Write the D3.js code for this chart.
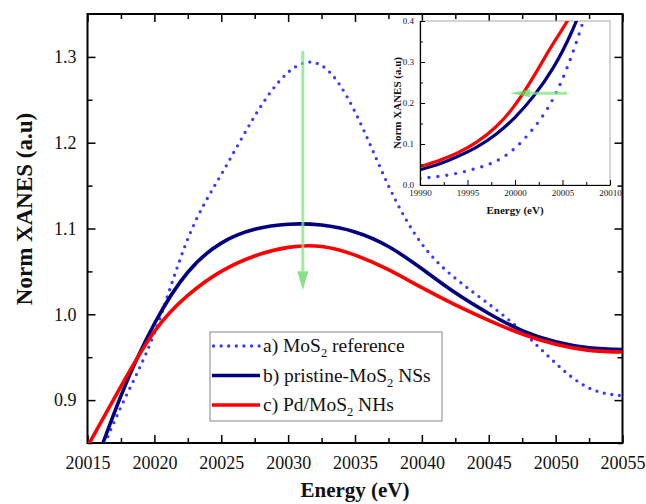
<!DOCTYPE html>
<html>
<head>
<meta charset="utf-8">
<script src="https://cdn.jsdelivr.net/npm/d3@7"></script>
<style>
  body { margin: 0; background: #fff; }
  svg text { font-family: "Liberation Serif", "Times New Roman", "DejaVu Serif", serif; fill: #111; }
</style>
</head>
<body>
<div id="chart"></div>
<script>

// main plot data (energy in eV, normalised XANES)
const energy = [20015, 20017.5, 20020, 20022.5, 20025, 20027.5, 20030, 20032.5, 20035,
	20037.5, 20040, 20042.5, 20045, 20047.5, 20050, 20052.5, 20055];
const refMoS2 = [0.800, 0.892, 0.978, 1.088, 1.163, 1.231, 1.282, 1.290, 1.236,
	1.150, 1.082, 1.042, 1.012, 0.980, 0.943, 0.914, 0.905];
const pristine = [0.800, 0.905, 0.989, 1.049, 1.083, 1.099, 1.105, 1.104, 1.096,
	1.079, 1.053, 1.025, 1.001, 0.981, 0.968, 0.961, 0.959];
const pdMoS2 = [0.846, 0.916, 0.980, 1.022, 1.050, 1.068, 1.078, 1.079, 1.069,
	1.052, 1.031, 1.011, 0.993, 0.977, 0.965, 0.958, 0.956];

// inset data (absorption edge)
const insetEnergy = [19990, 19992, 19994, 19996, 19998, 20000, 20002, 20004, 20006, 20008];
const insetRef = [0.016, 0.021, 0.029, 0.041, 0.058, 0.090, 0.140, 0.210, 0.318, 0.460];
const insetPristine = [0.037, 0.051, 0.070, 0.093, 0.124, 0.165, 0.218, 0.285, 0.375, 0.490];
const insetPd = [0.045, 0.060, 0.079, 0.105, 0.142, 0.195, 0.266, 0.344, 0.420, 0.520];

const xTicks = [20015, 20020, 20025, 20030, 20035, 20040, 20045, 20050, 20055];
const yTicks = [0.9, 1.0, 1.1, 1.2, 1.3];
const insetXTicks = [19990, 19995, 20000, 20005, 20010];
const insetYTicks = [0, 0.1, 0.2, 0.3, 0.4];

const seriesNames = ['a) MoS|2| reference', 'b) pristine-MoS|2| NSs', 'c) Pd/MoS|2| NHs'];

// arrows: [x, y] start and end in data units
const mainArrow = [[20031.1, 1.307], [20031.1, 1.028]];
const insetArrow = [[20005.5, 0.224], [19999.5, 0.224]];

const W = 646, H = 504;
const m = {left: 87.5, right: 23.5, top: 14, bottom: 61};
const pw = W - m.left - m.right, ph = H - m.top - m.bottom;
const serif = '"Liberation Serif", "Times New Roman", "DejaVu Serif", serif';

const styles = [
	{color: '#3a3aff', width: 3.3, dash: '0,7.6', cap: 'round'},
	{color: '#000080', width: 3.6, dash: null, cap: 'butt'},
	{color: '#ff0000', width: 3.6, dash: null, cap: 'butt'}
];

const svg = d3.select('#chart').append('svg')
	.attr('width', W)
	.attr('height', H);

const x = d3.scaleLinear().domain([20015, 20055]).range([m.left, m.left + pw]);
const y = d3.scaleLinear().domain([0.85, 1.35]).range([m.top + ph, m.top]);

svg.append('clipPath').attr('id', 'clipMain')
	.append('rect')
	.attr('x', m.left).attr('y', m.top).attr('width', pw).attr('height', ph);

function addMirrored(g, scale, major, minor, orient, len, minorLen, labels, fmt, fontSize, pad){
	// one axis line with inward major + minor ticks
	const ax = orient(scale).tickValues(major).tickSizeInner(-len).tickSizeOuter(0)
		.tickPadding(pad).tickFormat(labels ? fmt : '');
	g.call(ax).attr('font-family', null);
	g.selectAll('.tick text').style('font-size', fontSize + 'px')
		.style('font-family', serif).attr('fill', '#111');
	g.select('.domain').remove();
	const mg = g.append('g');
	mg.call(orient(scale).tickValues(minor).tickSizeInner(-minorLen).tickSizeOuter(0).tickFormat(''));
	mg.select('.domain').remove();
	g.selectAll('line').attr('stroke', '#000').attr('stroke-width', 1.5);
}

const xMinor = d3.range(20017.5, 20055, 5);
const yMinor = [0.85, 0.95, 1.05, 1.15, 1.25];

addMirrored(svg.append('g').attr('transform', `translate(0,${m.top + ph})`),
	x, xTicks, xMinor, d3.axisBottom, 8, 5, true, d3.format('d'), 18, 13);
addMirrored(svg.append('g').attr('transform', `translate(0,${m.top})`),
	x, xTicks, xMinor, d3.axisTop, 8, 5, false, null, 18, 13);
addMirrored(svg.append('g').attr('transform', `translate(${m.left},0)`),
	y, yTicks, yMinor, d3.axisLeft, 8, 5, true, d3.format('.1f'), 18, 11);
addMirrored(svg.append('g').attr('transform', `translate(${m.left + pw},0)`),
	y, yTicks, yMinor, d3.axisRight, 8, 5, false, null, 18, 11);

svg.append('rect')
	.attr('x', m.left).attr('y', m.top).attr('width', pw).attr('height', ph)
	.attr('fill', 'none').attr('stroke', '#000').attr('stroke-width', 2);

// curves
const line = d3.line()
	.x(d => x(d[0]))
	.y(d => y(d[1]))
	.curve(d3.curveNatural);

const mainSeries = [refMoS2, pristine, pdMoS2];
const plot = svg.append('g').attr('clip-path', 'url(#clipMain)');
plot.selectAll('.series')
	.data(mainSeries)
	.join('path')
	.attr('class', 'series')
	.attr('d', (s) => line(energy.map((e, i) => [e, s[i]])))
	.attr('fill', 'none')
	.attr('stroke', (d, i) => styles[i].color)
	.attr('stroke-width', (d, i) => styles[i].width)
	.attr('stroke-dasharray', (d, i) => styles[i].dash)
	.attr('stroke-linecap', (d, i) => styles[i].cap);

// green arrows
function drawArrow(g, p0, p1, sx, sy, headLen, headW, lw){
	const x0 = sx(p0[0]), y0 = sy(p0[1]), x1 = sx(p1[0]), y1 = sy(p1[1]);
	const ang = Math.atan2(y1 - y0, x1 - x0);
	const bx = x1 - headLen * Math.cos(ang), by = y1 - headLen * Math.sin(ang);
	const nx = -Math.sin(ang) * headW / 2, ny = Math.cos(ang) * headW / 2;
	g.append('line')
		.attr('x1', x0).attr('y1', y0).attr('x2', bx).attr('y2', by)
		.attr('stroke', '#7fe57f').attr('stroke-opacity', 0.75).attr('stroke-width', lw);
	g.append('path')
		.attr('d', `M${x1},${y1}L${bx + nx},${by + ny}L${bx - nx},${by - ny}Z`)
		.attr('fill', '#5fd85f').attr('fill-opacity', 0.75);
}
drawArrow(svg.append('g'), mainArrow[0], mainArrow[1], x, y, 19, 11, 3);

// legend
const leg = svg.append('g').attr('transform', 'translate(210,332)');
leg.append('rect')
	.attr('width', 232).attr('height', 89)
	.attr('fill', '#fff').attr('stroke', '#999').attr('stroke-width', 1.2);

seriesNames.forEach((name, i) => {
	const row = leg.append('g').attr('transform', `translate(0,${14 + i * 29.5})`);
	row.append('line')
		.attr('x1', i === 0 ? 3.5 : 2).attr('x2', 50).attr('y1', 0).attr('y2', 0)
		.attr('stroke', styles[i].color)
		.attr('stroke-width', styles[i].width)
		.attr('stroke-dasharray', styles[i].dash)
		.attr('stroke-linecap', styles[i].cap);
	const parts = name.split('|');
	const t = row.append('text').attr('x', 53).attr('y', 6).style('font-size', '19.5px');
	t.append('tspan').text(parts[0]);
	t.append('tspan').text(parts[1]).attr('dy', 5).style('font-size', '12.5px');
	t.append('tspan').text(parts[2]).attr('dy', -5);
});

// axis titles
svg.append('text')
	.attr('x', m.left + pw / 2).attr('y', 497)
	.attr('text-anchor', 'middle')
	.style('font-size', '21px').style('font-weight', 'bold')
	.text('Energy (eV)');
svg.append('text')
	.attr('transform', 'translate(32,209) rotate(-90)')
	.attr('text-anchor', 'middle')
	.style('font-size', '23px').style('font-weight', 'bold')
	.text('Norm XANES (a.u)');

// inset
const ix = d3.scaleLinear().domain([19990, 20010]).range([420, 610]);
const iy = d3.scaleLinear().domain([0, 0.4]).range([185, 21]);
const inset = svg.append('g');

inset.append('rect')
	.attr('x', 420).attr('y', 21).attr('width', 190).attr('height', 164)
	.attr('fill', '#fff').attr('stroke', '#aaa').attr('stroke-width', 1);
svg.append('clipPath').attr('id', 'clipInset')
	.append('rect')
	.attr('x', 420).attr('y', 21).attr('width', 190).attr('height', 164);

const iline = d3.line()
	.x(d => ix(d[0]))
	.y(d => iy(d[1]))
	.curve(d3.curveNatural);

inset.append('g').attr('clip-path', 'url(#clipInset)')
	.selectAll('path')
	.data([insetRef, insetPristine, insetPd])
	.join('path')
	.attr('d', (s) => iline(insetEnergy.map((e, i) => [e, s[i]])))
	.attr('fill', 'none')
	.attr('stroke', (d, i) => styles[i].color)
	.attr('stroke-width', (d, i) => i === 0 ? 3.4 : 3.2)
	.attr('stroke-dasharray', (d, i) => i === 0 ? '0,9' : null)
	.attr('stroke-linecap', (d, i) => styles[i].cap);

const ixAxis = inset.append('g').attr('transform', 'translate(0,185)')
	.call(d3.axisBottom(ix).tickValues(insetXTicks).tickSizeInner(-5).tickSizeOuter(0)
		.tickPadding(5).tickFormat(d3.format('d')));
ixAxis.append('g')
	.call(d3.axisBottom(ix).tickValues(d3.range(19992.5, 20010, 5)).tickSizeInner(-3).tickSizeOuter(0).tickFormat(''))
	.select('.domain').remove();
const iyAxis = inset.append('g').attr('transform', 'translate(420,0)')
	.call(d3.axisLeft(iy).tickValues(insetYTicks).tickSizeInner(-5).tickSizeOuter(0)
		.tickPadding(6).tickFormat(d3.format('.1f')));
iyAxis.append('g')
	.call(d3.axisLeft(iy).tickValues([0.05, 0.15, 0.25, 0.35]).tickSizeInner(-3).tickSizeOuter(0).tickFormat(''))
	.select('.domain').remove();
[ixAxis, iyAxis].forEach(g => {
	g.attr('font-family', null);
	g.selectAll('.domain').attr('stroke', '#000').attr('stroke-width', 1.2);
	g.selectAll('line').attr('stroke', '#000');
	g.selectAll('.tick text').style('font-size', '9px')
		.style('font-family', serif).attr('fill', '#222');
});
iyAxis.selectAll('.tick text').attr('dy', '0.25em');

drawArrow(inset.append('g'), insetArrow[0], insetArrow[1], ix, iy, 20, 8, 3);

inset.append('text')
	.attr('x', 515).attr('y', 214)
	.attr('text-anchor', 'middle')
	.style('font-size', '11px').style('font-weight', 'bold')
	.text('Energy (eV)');
inset.append('text')
	.attr('transform', 'translate(401,103) rotate(-90)')
	.attr('text-anchor', 'middle')
	.style('font-size', '11px').style('font-weight', 'bold')
	.text('Norm XANES (a.u)');

</script>
</body>
</html>
